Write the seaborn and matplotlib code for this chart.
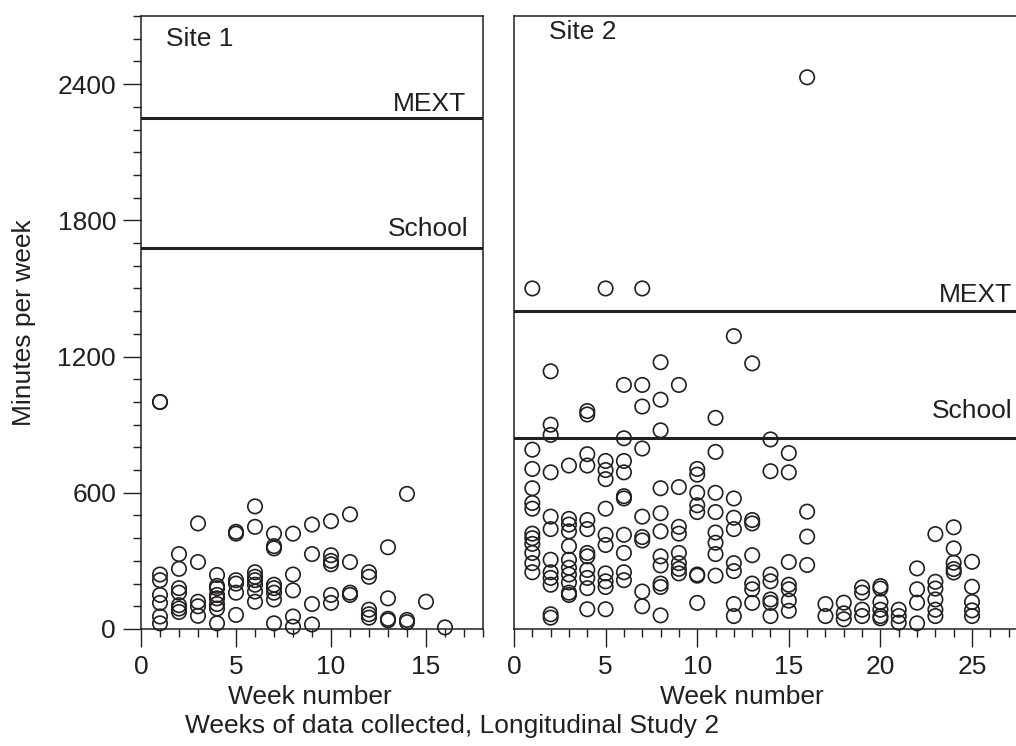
import matplotlib
matplotlib.use("Agg")
import matplotlib.pyplot as plt
from matplotlib.ticker import MultipleLocator, FixedLocator
import seaborn as sns
import pandas as pd

# ---- data -------------------------------------------------------------
site1_week = (
    [1] * 8 + [2] * 7 + [3] * 5 + [4] * 8 + [5] * 6 + [6] * 8 + [7] * 8 + [8] * 5
    + [9] * 4 + [10] * 6 + [11] * 4 + [12] * 5 + [13] * 4 + [14] * 3 + [15] + [16]
)
site1_minutes = (
    [1000, 1000, 240, 215, 150, 115, 55, 25]
    + [330, 265, 180, 160, 105, 90, 75]
    + [465, 295, 120, 100, 58]
    + [238, 190, 180, 150, 135, 110, 90, 25]
    + [428, 420, 215, 200, 160, 62]
    + [540, 450, 250, 230, 215, 195, 165, 120]
    + [420, 365, 355, 195, 180, 160, 130, 25]
    + [420, 240, 170, 55, 10]
    + [460, 330, 110, 20]
    + [475, 325, 300, 285, 150, 115]
    + [505, 295, 160, 150]
    + [250, 230, 85, 65, 50]
    + [360, 135, 45, 38]
    + [595, 40, 30]
    + [120]
    + [7]
)

site2_week = (
    [1] * 12 + [2] * 12 + [3] * 11 + [4] * 12 + [5] * 11 + [6] * 10 + [7] * 9
    + [8] * 11 + [9] * 8 + [10] * 8 + [11] * 8 + [12] * 8 + [13] * 7 + [14] * 7
    + [15] * 7 + [16] * 4 + [17] * 2 + [18] * 3 + [19] * 4 + [20] * 6 + [21] * 3
    + [22] * 4 + [23] * 6 + [24] * 5 + [25] * 5
)
site2_minutes = (
    [1500, 790, 705, 620, 555, 530, 420, 400, 375, 335, 290, 250]
    + [1135, 900, 855, 690, 495, 440, 305, 250, 225, 195, 65, 50]
    + [720, 485, 460, 430, 365, 305, 270, 240, 205, 160, 150]
    + [960, 945, 770, 720, 480, 440, 335, 320, 260, 225, 180, 87]
    + [1500, 740, 700, 660, 530, 415, 370, 245, 210, 185, 87]
    + [1075, 840, 740, 690, 585, 575, 415, 335, 250, 215]
    + [1500, 1075, 980, 795, 495, 405, 390, 165, 100]
    + [1175, 1010, 875, 620, 510, 430, 320, 280, 200, 185, 60]
    + [1075, 625, 450, 420, 335, 290, 265, 245]
    + [705, 680, 600, 545, 515, 240, 235, 115]
    + [930, 780, 600, 515, 425, 380, 330, 235]
    + [1290, 575, 490, 440, 290, 255, 110, 57]
    + [1170, 480, 465, 325, 200, 175, 115]
    + [835, 695, 240, 210, 130, 115, 57]
    + [775, 690, 295, 195, 175, 125, 80]
    + [2430, 517, 407, 282]
    + [110, 57]
    + [116, 69, 43]
    + [183, 160, 85, 57]
    + [189, 178, 119, 85, 57, 47]
    + [85, 57, 28]
    + [267, 175, 116, 25]
    + [418, 208, 178, 130, 85, 57]
    + [448, 355, 292, 264, 249]
    + [296, 186, 119, 82, 57]
)

# recommended weekly minutes (horizontal guide lines)
site1_mext, site1_school = 2250, 1680
site2_mext, site2_school = 1400, 840

panel_titles = ["Site 1", "Site 2"]
x_label = "Week number"
y_label = "Minutes per week"
footer = "Weeks of data collected, Longitudinal Study 2"
y_ticks = [0, 600, 1200, 1800, 2400]

# ---- style ------------------------------------------------------------
ink = "#231f20"
fs = 19
sns.set_theme(style="white", rc={
    "xtick.bottom": True, "ytick.left": True,
    "xtick.direction": "out", "ytick.direction": "out",
    "xtick.major.size": 13, "ytick.major.size": 13,
    "xtick.minor.size": 5.5, "ytick.minor.size": 5.5,
    "xtick.major.width": 1.0, "ytick.major.width": 1.0,
    "xtick.minor.width": 1.0, "ytick.minor.width": 1.0,
    "xtick.major.pad": 6, "ytick.major.pad": 5,
    "xtick.color": ink, "ytick.color": ink,
    "xtick.labelsize": fs, "ytick.labelsize": fs,
})
plt.rcParams["font.family"] = ["Liberation Sans", "DejaVu Sans"]

df1 = pd.DataFrame({"week": site1_week, "minutes": site1_minutes})
df2 = pd.DataFrame({"week": site2_week, "minutes": site2_minutes})

W, H = 1016, 746
fig = plt.figure(figsize=(W / 100, H / 100), dpi=100)
ax1 = fig.add_axes([141 / W, 117 / H, 342 / W, 613 / H])
ax2 = fig.add_axes([514 / W, 117 / H, 502 / W, 613 / H])


def style_axes(ax, xmax, show_y):
    ax.set_xlim(0, xmax)
    ax.set_ylim(0, 2700)
    ax.set_xlabel("")
    ax.set_ylabel("")
    ax.xaxis.set_major_locator(MultipleLocator(5))
    ax.xaxis.set_minor_locator(MultipleLocator(1))
    for side in ["left", "top", "bottom", "right"]:
        ax.spines[side].set_color(ink)
        ax.spines[side].set_linewidth(1.1)
    if show_y:
        ax.yaxis.set_major_locator(FixedLocator(y_ticks))
        ax.yaxis.set_minor_locator(MultipleLocator(100))
        ax.tick_params(axis="y", which="major", length=13, width=1.0,
                       direction="out", color=ink, labelcolor=ink,
                       labelsize=fs, pad=5, left=True)
        ax.tick_params(axis="y", which="minor", length=5.5, width=1.0,
                       direction="out", color=ink, left=True)
    else:
        ax.tick_params(axis="y", which="both", left=False, labelleft=False)
        ax.spines["right"].set_visible(False)
    ax.tick_params(axis="x", which="major", length=13, width=1.0,
                   direction="out", color=ink, labelcolor=ink,
                   labelsize=fs, pad=6, bottom=True)
    ax.tick_params(axis="x", which="minor", length=5.5, width=1.0,
                   direction="out", color=ink, bottom=True)


for ax, df, xmax, show_y in [(ax1, df1, 18, True), (ax2, df2, 27.4, False)]:
    sns.scatterplot(data=df, x="week", y="minutes", ax=ax, s=108,
                    color="white", edgecolor=ink, linewidth=1.2,
                    clip_on=False, zorder=3, legend=False)
    ax.collections[-1].set_facecolor("none")
    style_axes(ax, xmax, show_y)

# guide lines and their labels
for ax, mext, school in [(ax1, site1_mext, site1_school), (ax2, site2_mext, site2_school)]:
    ax.axhline(mext, color=ink, lw=2.2, zorder=2)
    ax.axhline(school, color=ink, lw=2.2, zorder=2)

ax1.text(17.1, 2281, "MEXT", ha="right", va="baseline", fontsize=fs, color=ink)
ax1.text(17.25, 1731, "School", ha="right", va="baseline", fontsize=fs, color=ink)
ax2.text(27.2, 1440, "MEXT", ha="right", va="baseline", fontsize=fs, color=ink)
ax2.text(27.2, 929, "School", ha="right", va="baseline", fontsize=fs, color=ink)

ax1.text(0.072, 0.9516, panel_titles[0], transform=ax1.transAxes,
         ha="left", va="baseline", fontsize=fs, color=ink)
ax2.text(0.0697, 0.9625, panel_titles[1], transform=ax2.transAxes,
         ha="left", va="baseline", fontsize=fs, color=ink)

# axis labels
ax1.set_ylabel(y_label, fontsize=fs, color=ink)
ax1.yaxis.set_label_coords(-0.307, 0.5)
ax1.set_xlabel(x_label, fontsize=fs, color=ink)
ax1.xaxis.set_label_coords(0.494, -0.092)
ax2.set_xlabel(x_label, fontsize=fs, color=ink)
ax2.xaxis.set_label_coords(0.454, -0.092)

fig.text(452 / W, (H - 733) / H, footer, ha="center", va="baseline",
         fontsize=fs, color=ink)

fig.savefig("out.png", dpi=100, facecolor="white")
